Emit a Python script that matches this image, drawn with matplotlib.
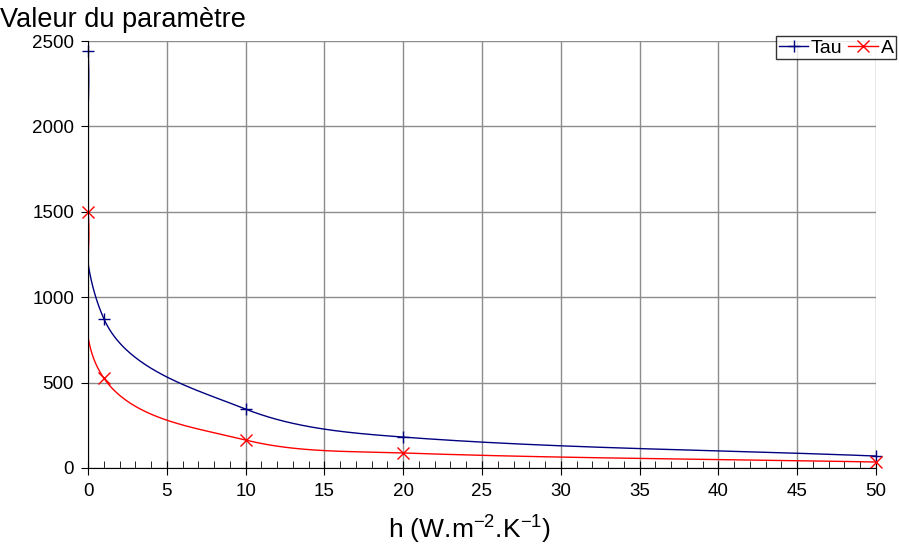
import numpy as np
import matplotlib.pyplot as plt
from matplotlib.ticker import MultipleLocator

plt.rcParams['font.family'] = ['Liberation Sans', 'DejaVu Sans']
plt.rcParams['mathtext.fontset'] = 'custom'
plt.rcParams['mathtext.rm'] = 'Liberation Sans'
plt.rcParams['mathtext.default'] = 'regular'

# values
h = [0, 1, 10, 20, 50]
tau = [2440, 875, 345, 181, 70]
a = [1500, 527, 164, 88, 35]

XMAX, YMAX = 50, 2500
W_PX, H_PX = 788, 427


def smooth(xs, ys, n=80):
    # smoothed line like the spreadsheet one: bezier in pixel space,
    # tangent along neighbours, handle length tied to segment length
    P = np.column_stack([np.array(xs) / XMAX * W_PX, np.array(ys) / YMAX * H_PX]).astype(float)
    m = len(P)
    D = []
    for i in range(m):
        d = P[min(i + 1, m - 1)] - P[max(i - 1, 0)]
        D.append(d / np.linalg.norm(d))
    out = []
    for i in range(m - 1):
        p1, p2 = P[i], P[i + 1]
        L = np.linalg.norm(p2 - p1) / 3
        c1 = p1 + D[i] * L
        c2 = p2 - D[i + 1] * L
        t = np.linspace(0, 1, n)[:, None]
        seg = (1 - t) ** 3 * p1 + 3 * (1 - t) ** 2 * t * c1 + 3 * (1 - t) * t ** 2 * c2 + t ** 3 * p2
        out.append(seg)
    s = np.vstack(out)
    return s[:, 0] / W_PX * XMAX, s[:, 1] / H_PX * YMAX


fig = plt.figure(figsize=(8.99, 5.52), dpi=100)
ax = fig.add_axes([88 / 899, 1 - 468 / 552, (876 - 88) / 899, (468 - 41) / 552])

for ys, col, mk, lab in [(tau, '#000080', '+', 'Tau'), (a, '#ff0000', 'x', 'A')]:
    sx, sy = smooth(h, ys)
    ax.plot(sx, sy, color=col, lw=1)
    ax.plot(h, ys, ls='none', marker=mk, ms=8, mew=1, color=col, clip_on=False)
    ax.plot([], [], color=col, lw=1, marker=mk, ms=8, label=lab)

ax.set_xlim(0, XMAX)
ax.set_ylim(0, YMAX)
ax.xaxis.set_major_locator(MultipleLocator(5))
ax.xaxis.set_minor_locator(MultipleLocator(1))
ax.yaxis.set_major_locator(MultipleLocator(500))
ax.grid(True, which='major', color='#8c8c8c', lw=1)
ax.set_axisbelow(True)
for s in ['top', 'right']:
    ax.spines[s].set_visible(False)
ax.tick_params(axis='x', which='major', direction='inout', length=10, labelsize=13.5, pad=6)
ax.tick_params(axis='x', which='minor', direction='in', length=5)
ax.tick_params(axis='y', which='major', direction='out', length=5, labelsize=13.5, pad=5)

fig.text(0.0, 1 - 20 / 552, 'Valeur du paramètre', fontsize=19.5, va='center', ha='left')
fig.text(470 / 899, 1 - 530 / 552, 'h (W.m$^{\\mathrm{-2}}$.K$^{\\mathrm{-1}}$)', fontsize=19, ha='center', va='center')

leg = ax.legend(loc='upper left', bbox_to_anchor=(776 / 899, 1 - 36 / 552), bbox_transform=fig.transFigure,
                ncol=2, frameon=True, fancybox=False, edgecolor='black', fontsize=14,
                handlelength=1.5, handletextpad=0.15, columnspacing=0.3, borderpad=0.15, borderaxespad=0)
leg.get_frame().set_linewidth(1)

fig.savefig('out.png', dpi=100)
